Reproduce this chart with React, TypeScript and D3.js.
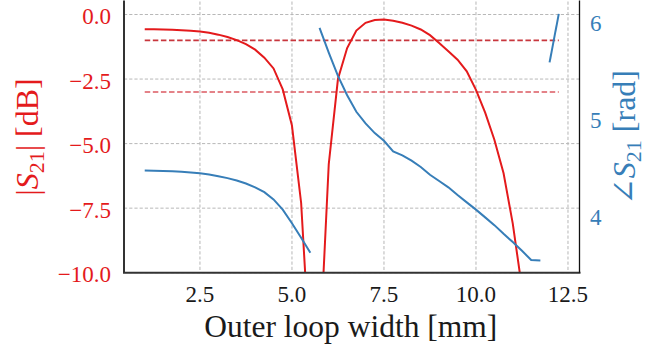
import React from "react";
import * as d3 from "d3";

// Outer loop width [mm]
const widths = [
  1.0, 1.25, 1.5, 1.75, 2.0, 2.25, 2.5, 2.75, 3.0, 3.25, 3.5, 3.75, 4.0, 4.25, 4.5, 4.75,
  5.0, 5.25, 5.5, 5.75, 6.0, 6.25, 6.5, 6.75, 7.0, 7.25, 7.5, 7.75, 8.0, 8.25, 8.5, 8.75,
  9.0, 9.25, 9.5, 9.75, 10.0, 10.25, 10.5, 10.75, 11.0, 11.25, 11.5, 11.75, 12.0, 12.25,
];

// |S21| [dB]
const magnitudeDb = [
  -0.57, -0.575, -0.58, -0.59, -0.605, -0.63, -0.66, -0.71, -0.78, -0.87, -0.99, -1.15, -1.36, -1.67, -2.09, -2.9,
  -4.3, -7.3, -13.5, -13.2, -5.8, -2.5, -1.3, -0.62, -0.32, -0.21, -0.19, -0.24, -0.32, -0.43, -0.58, -0.8,
  -1.1, -1.42, -1.75, -2.2, -2.92, -3.8, -4.85, -6.15, -8.1, -10.6, -13.5, -16.0, -18.0, -19.5,
];

// angle S21 [rad]
const phaseRad = [
  4.464, 4.462, 4.459, 4.455, 4.45, 4.443, 4.435, 4.422, 4.405, 4.385, 4.36, 4.33, 4.29, 4.24, 4.165, 4.06,
  3.92, 3.77, 3.615, 5.935, 5.68, 5.44, 5.24, 5.07, 4.95, 4.85, 4.77, 4.66, 4.62, 4.565, 4.5, 4.42,
  4.355, 4.29, 4.21, 4.135, 4.06, 3.98, 3.9, 3.81, 3.725, 3.635, 3.54, 3.535, 5.58, 6.08,
];

const referenceLevelsDb = [-1, -3];
const xTicks = [2.5, 5.0, 7.5, 10.0, 12.5];
const leftTicks = [0, -2.5, -5, -7.5, -10];
const rightTicks = [4, 5, 6];

const W = 657;
const H = 349;
const L = 124;
const R = 579.5;
const T = 1.6;
const B = 272.7;

const RED = "#e41a1c";
const BLUE = "#377eb8";
const FONT = "'Liberation Serif', 'DejaVu Serif', serif";

export default function App() {
  const x = d3.scaleLinear().domain([0.437, 12.813]).range([L, R]);
  const yL = d3.scaleLinear().domain([-10, 0.5]).range([B, T]);
  const yR = d3.scaleLinear().domain([3.409, 6.207]).range([B, T]);

  const magPts = widths.map((w, i) => ({ w, v: magnitudeDb[i] }));
  const magPath = d3
    .line<{ w: number; v: number }>()
    .x((d) => x(d.w))
    .y((d) => yL(d.v))(magPts) as string;

  // split phase at wraps (jumps larger than 1 rad)
  const segments: { w: number; v: number }[][] = [];
  let cur: { w: number; v: number }[] = [];
  widths.forEach((w, i) => {
    if (i > 0 && Math.abs(phaseRad[i] - phaseRad[i - 1]) > 1) {
      segments.push(cur);
      cur = [];
    }
    cur.push({ w, v: phaseRad[i] });
  });
  segments.push(cur);
  const phaseLine = d3
    .line<{ w: number; v: number }>()
    .x((d) => x(d.w))
    .y((d) => yR(d.v));

  const xMin = d3.min(widths) as number;
  const xMax = d3.max(widths) as number;
  const fmt = d3.format(".1f");

  return (
    <svg
      width={W}
      height={H}
      style={{ position: "absolute", left: 0, top: 0, background: "#fff" }}
      fontFamily={FONT}
    >
      <defs>
        <clipPath id="plotclip">
          <rect x={L} y={T} width={R - L} height={B - T} />
        </clipPath>
      </defs>

      {/* grid */}
      {xTicks.map((t) => (
        <line
          key={"gx" + t}
          x1={x(t)}
          x2={x(t)}
          y1={T}
          y2={B}
          stroke="#cfcfcf"
          strokeWidth={1.5}
          strokeDasharray="3.2,2"
        />
      ))}
      {leftTicks.map((t) => (
        <line
          key={"gy" + t}
          x1={L}
          x2={R}
          y1={yL(t)}
          y2={yL(t)}
          stroke="#b8b8b8"
          strokeWidth={1}
          strokeDasharray="3.2,2"
        />
      ))}

      <g clipPath="url(#plotclip)">
        {referenceLevelsDb.map((lv, i) => (
          <line
            key={"ref" + lv}
            x1={x(xMin)}
            x2={x(xMax)}
            y1={yL(lv)}
            y2={yL(lv)}
            stroke={i === 0 ? "#c8363d" : "#dc5a62"}
            strokeWidth={1.6}
            strokeDasharray="5.5,2.6"
          />
        ))}
        <path d={magPath} fill="none" stroke={RED} strokeWidth={2} />
        {segments.map((s, i) => (
          <path key={"ph" + i} d={phaseLine(s) as string} fill="none" stroke={BLUE} strokeWidth={2} />
        ))}
      </g>

      {/* spines */}
      <line x1={L} x2={L} y1={T - 1} y2={B} stroke="#333" strokeWidth={2} />
      <line x1={L - 1} x2={R + 1} y1={B} y2={B} stroke="#333" strokeWidth={2} />
      <line x1={R} x2={R} y1={T - 1} y2={B} stroke="#111" strokeWidth={1.3} />

      {/* x tick labels */}
      {xTicks.map((t) => (
        <text key={"xt" + t} x={x(t)} y={301.5} textAnchor="middle" fontSize={23} fill="#1a1a1a">
          {fmt(t)}
        </text>
      ))}
      <text x={(L + R) / 2 - 1} y={337} textAnchor="middle" fontSize={31.5} fill="#1a1a1a">
        Outer loop width [mm]
      </text>

      {/* left tick labels */}
      {leftTicks.map((t) => (
        <text key={"yl" + t} x={111} y={yL(t) + 9.5} textAnchor="end" fontSize={23} fill={RED}>
          {fmt(t).replace("-", "\u2212")}
        </text>
      ))}
      <text
        transform={`translate(38,137) rotate(-90)`}
        textAnchor="middle"
        fontSize={32}
        fill={RED}
      >
        |<tspan fontStyle="italic">S</tspan>
        <tspan fontSize={22} dy={6}>21</tspan>
        <tspan dy={-6}>| [dB]</tspan>
      </text>

      {/* right tick labels */}
      {rightTicks.map((t) => (
        <text key={"yr" + t} x={590} y={yR(t) + 9.5} textAnchor="start" fontSize={23} fill={BLUE}>
          {t}
        </text>
      ))}
      <text
        transform={`translate(635,137.5) rotate(-90)`}
        textAnchor="middle"
        fontSize={32}
        fill={BLUE}
      >
        ∠<tspan fontStyle="italic">S</tspan>
        <tspan fontSize={22} dy={6}>21</tspan>
        <tspan dy={-6}> [rad]</tspan>
      </text>
    </svg>
  );
}
